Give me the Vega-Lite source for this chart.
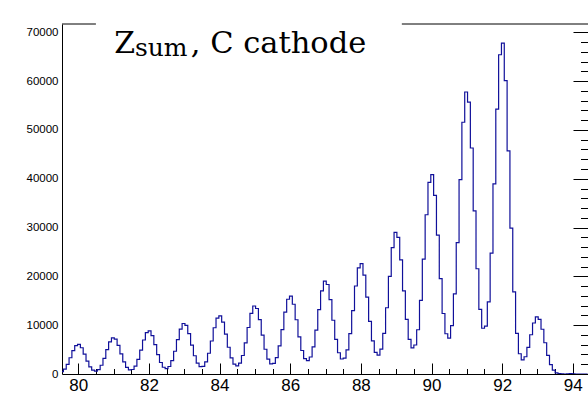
{
  "$schema": "https://vega.github.io/schema/vega-lite/v6.json",
  "autosize": {"type": "none"},
  "padding": {"left": 62, "top": 24, "right": 0, "bottom": 19},
  "width": 526,
  "height": 350,
  "background": "white",
  "config": {"view": {"stroke": null}},
  "resolve": {"axis": {"x": "independent", "y": "independent"}},
  "layer": [
    {
      "data": {"values": [
        {"x":79.54,"n":472},{"x":79.62,"n":1012},{"x":79.70,"n":1986},{"x":79.78,"n":3331},{"x":79.86,"n":4776},{"x":79.94,"n":5832},{"x":80.02,"n":6070},{"x":80.10,"n":5380},{"x":80.18,"n":4069},{"x":80.26,"n":2631},{"x":80.34,"n":1472},{"x":80.42,"n":781},{"x":80.50,"n":593},{"x":80.58,"n":915},{"x":80.66,"n":1792},{"x":80.74,"n":3219},{"x":80.82,"n":4976},{"x":80.90,"n":6577},{"x":80.98,"n":7413},{"x":81.06,"n":7129},{"x":81.14,"n":5854},{"x":81.22,"n":4110},{"x":81.30,"n":2504},{"x":81.38,"n":1375},{"x":81.46,"n":852},
        {"x":81.54,"n":919},{"x":81.62,"n":1615},{"x":81.70,"n":2977},{"x":81.78,"n":4899},{"x":81.86,"n":6966},{"x":81.94,"n":8488},{"x":82.02,"n":8837},{"x":82.10,"n":7866},{"x":82.18,"n":6020},{"x":82.26,"n":3983},{"x":82.34,"n":2351},{"x":82.42,"n":1384},{"x":82.50,"n":1120},{"x":82.58,"n":1539},{"x":82.66,"n":2727},{"x":82.74,"n":4660},{"x":82.82,"n":7030},{"x":82.90,"n":9200},{"x":82.98,"n":10350},{"x":83.06,"n":9970},{"x":83.14,"n":8260},{"x":83.22,"n":5900},{"x":83.30,"n":3735},{"x":83.38,"n":2214},{"x":83.46,"n":1498},
        {"x":83.54,"n":1573},{"x":83.62,"n":2467},{"x":83.70,"n":4252},{"x":83.78,"n":6761},{"x":83.86,"n":9475},{"x":83.94,"n":11457},{"x":84.02,"n":11903},{"x":84.10,"n":10616},{"x":84.18,"n":8164},{"x":84.26,"n":5475},{"x":84.34,"n":3304},{"x":84.42,"n":2011},{"x":84.50,"n":1648},{"x":84.58,"n":2214},{"x":84.66,"n":3790},{"x":84.74,"n":6359},{"x":84.82,"n":9524},{"x":84.90,"n":12410},{"x":84.98,"n":13933},{"x":85.06,"n":13423},{"x":85.14,"n":11128},{"x":85.22,"n":7979},{"x":85.30,"n":5072},{"x":85.38,"n":3027},{"x":85.46,"n":2065},
        {"x":85.54,"n":2163},{"x":85.62,"n":3369},{"x":85.70,"n":5754},{"x":85.78,"n":9080},{"x":85.86,"n":12675},{"x":85.94,"n":15310},{"x":86.02,"n":15935},{"x":86.10,"n":14290},{"x":86.18,"n":11115},{"x":86.26,"n":7620},{"x":86.34,"n":4817},{"x":86.42,"n":3166},{"x":86.50,"n":2743},{"x":86.58,"n":3483},{"x":86.66,"n":5568},{"x":86.74,"n":8978},{"x":86.82,"n":13186},{"x":86.90,"n":17019},{"x":86.98,"n":19031},{"x":87.06,"n":18333},{"x":87.14,"n":15242},{"x":87.22,"n":11008},{"x":87.30,"n":7106},{"x":87.38,"n":4356},{"x":87.46,"n":3070},
        {"x":87.54,"n":3241},{"x":87.62,"n":4933},{"x":87.70,"n":8279},{"x":87.78,"n":12965},{"x":87.86,"n":18030},{"x":87.94,"n":21737},{"x":88.02,"n":22604},{"x":88.10,"n":20248},{"x":88.18,"n":15730},{"x":88.26,"n":10776},{"x":88.34,"n":6789},{"x":88.42,"n":4445},{"x":88.50,"n":3869},{"x":88.58,"n":5093},{"x":88.66,"n":8337},{"x":88.74,"n":13569},{"x":88.82,"n":20009},{"x":88.90,"n":25887},{"x":88.98,"n":28995},{"x":89.06,"n":27999},{"x":89.14,"n":23368},{"x":89.22,"n":17015},{"x":89.30,"n":11179},{"x":89.38,"n":7100},{"x":89.46,"n":5365},
        {"x":89.54,"n":5941},{"x":89.62,"n":9070},{"x":89.70,"n":15103},{"x":89.78,"n":23523},{"x":89.86,"n":32622},{"x":89.94,"n":39274},{"x":90.02,"n":40830},{"x":90.10,"n":36584},{"x":90.18,"n":28453},{"x":90.26,"n":19553},{"x":90.34,"n":12396},{"x":90.42,"n":8243},{"x":90.50,"n":7366},{"x":90.58,"n":9903},{"x":90.66,"n":16406},{"x":90.74,"n":26897},{"x":90.82,"n":39812},{"x":90.90,"n":51569},{"x":90.98,"n":57768},{"x":91.06,"n":55682},{"x":91.14,"n":46294},{"x":91.22,"n":33417},{"x":91.30,"n":21558},{"x":91.38,"n":13219},{"x":91.46,"n":9373},
        {"x":91.54,"n":9808},{"x":91.62,"n":14771},{"x":91.70,"n":24770},{"x":91.78,"n":38936},{"x":91.86,"n":54278},{"x":91.94,"n":65396},{"x":92.02,"n":67770},{"x":92.10,"n":60112},{"x":92.18,"n":45722},{"x":92.26,"n":29893},{"x":92.34,"n":16825},{"x":92.42,"n":8331},{"x":92.50,"n":4150},{"x":92.58,"n":2893},{"x":92.66,"n":3536},{"x":92.74,"n":5447},{"x":92.82,"n":8037},{"x":92.90,"n":10449},{"x":92.98,"n":11693},{"x":93.06,"n":11196},{"x":93.14,"n":9165},{"x":93.22,"n":6402},{"x":93.30,"n":3821},{"x":93.38,"n":1928},{"x":93.46,"n":813},
        {"x":93.54,"n":250},{"x":93.62,"n":90},{"x":93.70,"n":20},{"x":93.78,"n":0},{"x":93.86,"n":30},{"x":93.94,"n":60},{"x":94.02,"n":30},{"x":94.10,"n":0},{"x":94.18,"n":0},{"x":94.26,"n":0},{"x":94.34,"n":0},{"x":94.42,"n":0}
      ]},
      "mark": {"type": "line", "interpolate": "step", "color": "#10109a", "strokeWidth": 1.2, "clip": true},
      "encoding": {
        "x": {
          "field": "x", "type": "quantitative",
          "scale": {"domain": [79.54, 94.43], "nice": false, "zero": false},
          "axis": {
            "title": null, "orient": "bottom",
            "values": [80,80.5,81,81.5,82,82.5,83,83.5,84,84.5,85,85.5,86,86.5,87,87.5,88,88.5,89,89.5,90,90.5,91,91.5,92,92.5,93,93.5,94],
            "labelExpr": "datum.value % 2 === 0 ? format(datum.value, 'd') : ''",
            "ticks": false,
            "grid": true, "gridColor": "black", "gridWidth": 1, "gridOpacity": 1, "gridDash": [0, 344.5, 5.5, 3000],
            "labelPadding": 3,
            "labelFont": "Liberation Sans", "labelFontSize": 17, "labelColor": "black",
            "labelOverlap": false, "labelFlush": false, "labelBound": false,
            "domainColor": "black", "domainWidth": 1
          }
        },
        "y": {
          "field": "n", "type": "quantitative",
          "scale": {"domain": [0, 71700], "nice": false, "zero": true},
          "axis": {
            "title": null, "orient": "left",
            "values": [0,2000,4000,6000,8000,10000,12000,14000,16000,18000,20000,22000,24000,26000,28000,30000,32000,34000,36000,38000,40000,42000,44000,46000,48000,50000,52000,54000,56000,58000,60000,62000,64000,66000,68000,70000],
            "labelExpr": "datum.value % 10000 === 0 ? format(datum.value, 'd') : ''",
            "ticks": false,
            "grid": true, "gridColor": "black", "gridWidth": 1, "gridOpacity": 1, "gridDash": [0, 518.5, 7.5, 3000],
            "labelPadding": 4,
            "labelFont": "Liberation Sans", "labelFontSize": 11.5, "labelColor": "black",
            "labelOverlap": false, "labelFlush": false, "labelBound": false,
            "domainColor": "black", "domainWidth": 1
          }
        }
      }
    },
    {
      "data": {"values": [{}]},
      "mark": {"type": "rule", "color": "black", "strokeWidth": 1},
      "encoding": {
        "x": {"datum": 79.54, "type": "quantitative", "axis": null},
        "x2": {"datum": 80.50},
        "y": {"datum": 71700, "type": "quantitative", "axis": null}
      }
    },
    {
      "data": {"values": [{}]},
      "mark": {"type": "rule", "color": "black", "strokeWidth": 1},
      "encoding": {
        "x": {"datum": 89.16, "type": "quantitative", "axis": null},
        "x2": {"datum": 94.43},
        "y": {"datum": 71700, "type": "quantitative", "axis": null}
      }
    },
    {
      "data": {"values": [{}]},
      "mark": {"type": "text", "text": "Z", "font": "DejaVu Serif", "fontSize": 30, "align": "left", "baseline": "alphabetic", "color": "black"},
      "encoding": {
        "x": {"datum": 81.02, "type": "quantitative",
          "axis": {
            "orient": "bottom", "title": null, "domain": false, "labels": false, "ticks": false,
            "values": [80,82,84,86,88,90,92,94],
            "grid": true, "gridColor": "black", "gridWidth": 1, "gridOpacity": 1, "gridDash": [0, 339, 11, 3000]
          }},
        "y": {"datum": 65700, "type": "quantitative",
          "axis": {
            "orient": "left", "title": null, "domain": false, "labels": false, "ticks": false,
            "values": [0,10000,20000,30000,40000,50000,60000,70000],
            "grid": true, "gridColor": "black", "gridWidth": 1, "gridOpacity": 1, "gridDash": [0, 511, 15, 3000]
          }}
      }
    },
    {
      "data": {"values": [{}]},
      "mark": {"type": "text", "text": "sum", "font": "DejaVu Serif", "fontSize": 25, "align": "left", "baseline": "alphabetic", "color": "black", "dx": 20.6, "dy": 2.7},
      "encoding": {"x": {"datum": 81.02, "type": "quantitative", "axis": null}, "y": {"datum": 65700, "type": "quantitative", "axis": null}}
    },
    {
      "data": {"values": [{}]},
      "mark": {"type": "text", "text": ", C cathode", "font": "DejaVu Serif", "fontSize": 30.5, "align": "left", "baseline": "alphabetic", "color": "black", "dx": 76.5},
      "encoding": {"x": {"datum": 81.02, "type": "quantitative", "axis": null}, "y": {"datum": 65700, "type": "quantitative", "axis": null}}
    }
  ]
}
